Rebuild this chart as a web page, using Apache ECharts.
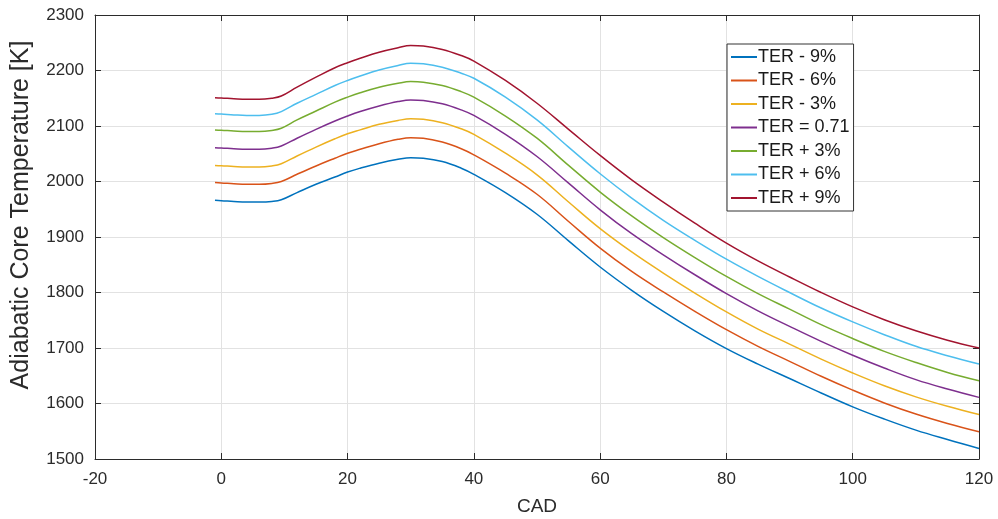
<!DOCTYPE html>
<html>
<head>
<meta charset="utf-8">
<script src="https://cdn.jsdelivr.net/npm/echarts@6/dist/echarts.min.js"></script>
<style>
  html, body { margin: 0; padding: 0; background: #ffffff; }
  #chart { width: 998px; height: 519px; }
</style>
</head>
<body>
<div id="chart"></div>
<script>
// Crank angle positions (deg) at which the core temperature is sampled
const cad = [-1, 0, 2, 4, 6, 8, 9.5, 12, 15, 18, 20, 22, 25, 28, 30, 32, 35, 38, 40, 45,
             50, 55, 60, 65, 70, 75, 80, 85, 90, 95, 100, 105, 110, 115, 120];

// Adiabatic core temperature [K] for each trapped-residual variation
const terMinus9 = [1966, 1965.5, 1964, 1963, 1963, 1964, 1967, 1980, 1995, 2008, 2017, 2024, 2033, 2040, 2043, 2042, 2036, 2024, 2013, 1980,
                   1941, 1893, 1846, 1804, 1766, 1731, 1699, 1671, 1645, 1619, 1594, 1572, 1552, 1535, 1519];
const terMinus6 = [1998, 1997.5, 1996, 1995, 1995, 1996.5, 2000, 2013, 2028, 2042, 2051, 2058, 2068, 2076, 2079, 2078, 2071, 2059, 2048, 2015,
                   1977, 1928, 1880, 1838, 1801, 1766, 1733, 1703, 1676, 1649, 1624, 1601, 1581, 1564, 1549];
const terMinus3 = [2029, 2028.5, 2027, 2026, 2026, 2028, 2032, 2046, 2062, 2077, 2086, 2093, 2103, 2110, 2113, 2112, 2106, 2095, 2085, 2051,
                   2012, 1963, 1915, 1873, 1835, 1799, 1765, 1734, 1707, 1680, 1655, 1632, 1612, 1595, 1580];
const terBase   = [2061, 2060.5, 2059, 2058, 2058, 2060, 2064, 2078, 2094, 2109, 2118, 2126, 2136, 2144, 2147, 2146, 2140, 2129, 2119, 2085,
                   2045, 1997, 1949, 1906, 1868, 1832, 1798, 1767, 1739, 1712, 1687, 1664, 1643, 1626, 1611];
const terPlus3  = [2093, 2092.5, 2091, 2090, 2090, 2092, 2096, 2111, 2127, 2143, 2152, 2160, 2170, 2177, 2180, 2179, 2173, 2162, 2152, 2118,
                   2078, 2029, 1981, 1938, 1899, 1863, 1829, 1798, 1770, 1742, 1717, 1694, 1674, 1656, 1641];
const terPlus6  = [2122, 2121.5, 2120, 2119, 2119, 2121, 2126, 2141, 2157, 2173, 2182, 2190, 2201, 2209, 2213, 2212, 2206, 2195, 2186, 2152,
                   2111, 2062, 2014, 1970, 1930, 1894, 1860, 1829, 1800, 1772, 1747, 1724, 1703, 1686, 1671];
const terPlus9  = [2151, 2150.5, 2149, 2148, 2148, 2150, 2154, 2170, 2188, 2205, 2214, 2222, 2233, 2241, 2245, 2244, 2238, 2227, 2217, 2182,
                   2141, 2094, 2047, 2003, 1963, 1925, 1889, 1857, 1828, 1800, 1774, 1751, 1731, 1714, 1700];

const seriesNames = ['TER - 9%', 'TER - 6%', 'TER - 3%', 'TER = 0.71', 'TER + 3%', 'TER + 6%', 'TER + 9%'];
const seriesValues = [terMinus9, terMinus6, terMinus3, terBase, terPlus3, terPlus6, terPlus9];
const seriesColors = ['#0072BD', '#D95319', '#EDB120', '#7E2F8E', '#77AC30', '#4DBEEE', '#A2142F'];

// Axis ranges, tick steps and titles
const xRange = { min: -20, max: 120, step: 20 };
const yRange = { min: 1500, max: 2300, step: 100 };
const xTitle = 'CAD';
const yTitle = 'Adiabatic Core Temperature [K]';

const axisColor = '#2b2b2b';
const gridColor = '#e2e2e2';
const font = 'Liberation Sans, Arial, Helvetica, sans-serif';

const chart = echarts.init(document.getElementById('chart'), null, { renderer: 'canvas' });

const series = seriesNames.map((name, i) => ({
  name: name,
  type: 'line',
  data: cad.map((x, j) => [x, seriesValues[i][j]]),
  showSymbol: false,
  symbol: 'none',
  smooth: 0.4,
  lineStyle: { color: seriesColors[i], width: 1.5 },
  itemStyle: { color: seriesColors[i] },
  z: 3
}));

const plainNumber = (v) => String(v);

chart.setOption({
  animation: false,
  backgroundColor: '#ffffff',
  grid: { left: 95, right: 19, top: 15, bottom: 60, containLabel: false, outerBoundsMode: 'none' },
  // Vertical title of the temperature axis
  graphic: [{
    type: 'text',
    x: 21,
    y: 215,
    rotation: Math.PI / 2,
    style: {
      text: yTitle,
      fill: axisColor,
      font: '25px ' + font,
      align: 'center',
      verticalAlign: 'middle'
    }
  }],
  legend: {
    data: seriesNames,
    orient: 'vertical',
    left: 727,
    top: 44,
    backgroundColor: '#ffffff',
    borderColor: '#333333',
    borderWidth: 1,
    padding: [3, 4, 3, 4],
    itemGap: 3.5,
    itemWidth: 26,
    itemHeight: 2,
    icon: 'rect',
    textStyle: { fontFamily: font, fontSize: 18, color: '#1a1a1a', lineHeight: 20, padding: [0, 0, 0, -4] }
  },
  xAxis: [
    {
      type: 'value',
      position: 'bottom',
      min: xRange.min, max: xRange.max, interval: xRange.step,
      name: xTitle,
      nameLocation: 'middle',
      nameGap: 38,
      nameTextStyle: { fontFamily: font, fontSize: 19, color: axisColor },
      axisLine: { show: true, onZero: false, lineStyle: { color: axisColor, width: 1 } },
      axisTick: { show: true, inside: true, length: 6, lineStyle: { color: axisColor } },
      axisLabel: { fontFamily: font, fontSize: 17, color: axisColor, margin: 12, formatter: plainNumber },
      splitLine: { show: true, lineStyle: { color: gridColor, width: 1 } }
    },
    {
      type: 'value',
      position: 'top',
      min: xRange.min, max: xRange.max, interval: xRange.step,
      axisLine: { show: true, onZero: false, lineStyle: { color: axisColor, width: 1 } },
      axisTick: { show: true, inside: true, length: 6, lineStyle: { color: axisColor } },
      axisLabel: { show: false },
      splitLine: { show: false }
    }
  ],
  yAxis: [
    {
      type: 'value',
      position: 'left',
      min: yRange.min, max: yRange.max, interval: yRange.step,
      axisLine: { show: true, onZero: false, lineStyle: { color: axisColor, width: 1 } },
      axisTick: { show: true, inside: true, length: 6, lineStyle: { color: axisColor } },
      axisLabel: { fontFamily: font, fontSize: 17, color: axisColor, margin: 11, formatter: plainNumber },
      splitLine: { show: true, lineStyle: { color: gridColor, width: 1 } }
    },
    {
      type: 'value',
      position: 'right',
      min: yRange.min, max: yRange.max, interval: yRange.step,
      axisLine: { show: true, onZero: false, lineStyle: { color: axisColor, width: 1 } },
      axisTick: { show: true, inside: true, length: 6, lineStyle: { color: axisColor } },
      axisLabel: { show: false },
      splitLine: { show: false }
    }
  ],
  series: series
});
</script>
</body>
</html>
